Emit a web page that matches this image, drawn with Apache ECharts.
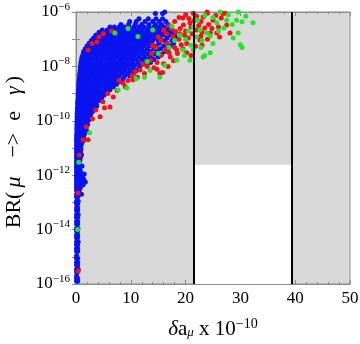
<!DOCTYPE html>
<html>
<head>
<meta charset="utf-8">
<script src="https://cdn.jsdelivr.net/npm/echarts@6/dist/echarts.min.js"></script>
<style>
  html, body { margin: 0; padding: 0; background: #fff; }
  #chart { width: 360px; height: 344px; }
</style>
</head>
<body>
<div id="chart"></div>
<script>
// blue cloud, read row by row: [BR value, [delta a_mu values]]
const blueRows = [
  [1e-6, [16.2]],
  [8.9e-7, [14.5, 15.8]],
  [5.6e-7, [11.5, 13.2, 14.6, 15.8]],
  [4.5e-7, [9.8, 11.0, 12.6, 14.0, 15.2, 16.4]],
  [3.5e-7, [8.2, 9.6, 10.8, 12.0, 13.3, 14.5, 15.6, 16.8]],
  [2.8e-7, [6.2, 7.0, 7.9, 8.8, 9.7, 10.6, 11.5, 12.4, 13.3, 14.2, 15.1, 16.0, 17.0]],
  [2.2e-7, [4.8, 5.7, 6.6, 7.5, 8.4, 9.3, 10.2, 11.1, 12, 12.9, 13.8, 14.7, 15.6, 16.5, 17.4]],
  [1.8e-7, [4.2, 5.0, 5.8, 6.6, 7.4, 8.2, 9.0, 9.8, 10.6, 11.4, 12.2, 13.0, 13.8, 14.6, 15.4, 16.2, 17.0, 17.8]],
  [1.4e-7, [3.6, 4.4, 5.2, 6.0, 6.8, 7.6, 8.4, 9.2, 10.0, 10.8, 11.6, 12.4, 13.2, 14.0, 14.8, 15.6, 16.4, 17.2, 18.0]],
  [1.1e-7, [3.2, 4.0, 4.8, 5.6, 6.4, 7.2, 8.0, 8.8, 9.6, 10.4, 11.2, 12.0, 12.8, 13.6, 14.4, 15.4, 16.6, 18.2]],
  [8.9e-8, [2.8, 3.6, 4.4, 5.2, 6.0, 6.8, 7.6, 8.4, 9.2, 10.0, 10.8, 11.6, 12.4, 13.2, 14.0, 15.0, 16.2, 17.5]],
  [7.1e-8, [2.4, 3.2, 4.0, 4.8, 5.6, 6.4, 7.2, 8.0, 8.8, 9.6, 10.4, 11.2, 12.0, 12.8, 13.8, 15.2, 16.6, 17.8]],
  [5.6e-8, [2.0, 2.8, 3.6, 4.4, 5.2, 6.0, 6.8, 7.6, 8.4, 9.2, 10.0, 10.8, 11.6, 12.4, 13.4, 14.6, 16.0, 17.2]],
  [4.5e-8, [1.7, 2.4, 3.2, 4.0, 4.8, 5.6, 6.4, 7.2, 8.0, 8.8, 9.6, 10.4, 11.2, 12.0, 13.0, 14.2, 15.4, 16.8]],
  [3.5e-8, [1.4, 2.1, 2.9, 3.7, 4.5, 5.3, 6.1, 6.9, 7.7, 8.5, 9.3, 10.1, 10.9, 11.7, 12.6, 13.6, 14.8, 16.2]],
  [2.8e-8, [1.3, 1.9, 2.5, 3.3, 4.1, 4.9, 5.7, 6.5, 7.3, 8.1, 8.9, 9.7, 10.5, 11.3, 12.2, 13.2, 14.4, 15.6]],
  [2.2e-8, [1.1, 1.8, 2.6, 3.4, 4.2, 5.0, 5.8, 6.6, 7.4, 8.2, 9.0, 9.8, 10.6, 11.5, 12.5, 13.6, 15.0]],
  [1.8e-8, [1.0, 1.5, 2.2, 3.0, 3.8, 4.6, 5.4, 6.2, 7.0, 7.8, 8.6, 9.4, 10.2, 11.0, 12.0, 13.0, 14.2]],
  [1.4e-8, [0.9, 1.5, 2.2, 3.0, 3.8, 4.6, 5.4, 6.2, 7.0, 7.8, 8.6, 9.4, 10.3, 11.3, 12.4, 13.6]],
  [1.1e-8, [0.85, 1.2, 1.8, 2.5, 3.3, 4.1, 4.9, 5.7, 6.5, 7.3, 8.1, 9.0, 9.9, 10.8, 11.8, 12.9]],
  [8.9e-9, [0.8, 1.4, 2.1, 2.9, 3.7, 4.5, 5.3, 6.1, 6.9, 7.7, 8.5, 9.4, 10.4, 11.6]],
  [7.1e-9, [0.75, 1.1, 1.7, 2.5, 3.3, 4.1, 4.9, 5.7, 6.5, 7.3, 8.1, 8.9, 9.9, 11.0]],
  [5.6e-9, [0.7, 1.2, 1.9, 2.7, 3.5, 4.3, 5.1, 5.9, 6.7, 7.5, 8.4, 9.4, 10.5]],
  [4.5e-9, [0.65, 1.0, 1.5, 2.3, 3.1, 3.9, 4.7, 5.5, 6.3, 7.1, 7.9, 8.9, 9.8]],
  [3.5e-9, [0.6, 1.1, 1.8, 2.6, 3.4, 4.2, 5.0, 5.8, 6.6, 7.5, 8.6]],
  [2.8e-9, [0.55, 0.9, 1.4, 2.2, 3.0, 3.8, 4.6, 5.4, 6.2, 7.0, 8.0]],
  [2.2e-9, [0.5, 1.0, 1.6, 2.4, 3.2, 4.0, 4.8, 5.6, 6.5, 7.4]],
  [1.8e-9, [0.5, 0.8, 1.3, 2.0, 2.8, 3.6, 4.4, 5.2, 6.0, 6.8]],
  [1.4e-9, [0.45, 0.9, 1.5, 2.2, 3.0, 3.8, 4.6, 5.5, 6.2]],
  [1.1e-9, [0.45, 0.7, 1.2, 1.9, 2.6, 3.4, 4.2, 5.0, 5.7]],
  [8.9e-10, [0.4, 0.8, 1.4, 2.1, 2.8, 3.6, 4.4, 5.1]],
  [7.1e-10, [0.4, 0.6, 1.1, 1.7, 2.4, 3.2, 4.0, 4.7]],
  [5.6e-10, [0.35, 0.75, 1.3, 2.0, 2.7, 3.4, 4.2]],
  [4.5e-10, [0.3, 0.55, 1.0, 1.6, 2.3, 3.0, 3.7]],
  [3.5e-10, [0.3, 0.7, 1.2, 1.8, 2.5, 3.2, 3.8]],
  [2.8e-10, [0.25, 0.5, 0.9, 1.5, 2.1, 2.8, 3.4]],
  [2.2e-10, [0.25, 0.6, 1.1, 1.7, 2.3, 3.0]],
  [1.8e-10, [0.2, 0.45, 0.85, 1.4, 2.0, 2.7]],
  [1.4e-10, [0.2, 0.55, 1.0, 1.6, 2.2, 2.6]],
  [1.1e-10, [0.2, 0.4, 0.75, 1.2, 1.8, 2.4]],
  [8.9e-11, [0.2, 0.5, 0.9, 1.4, 2.0]],
  [7.1e-11, [0.15, 0.35, 0.7, 1.1, 1.6, 2.1]],
  [5.6e-11, [0.15, 0.45, 0.8, 1.3, 1.8]],
  [4.5e-11, [0.15, 0.35, 0.6, 1.0, 1.5, 1.9]],
  [3.5e-11, [0.15, 0.4, 0.8, 1.2, 1.6]],
  [2.8e-11, [0.1, 0.3, 0.6, 1.0, 1.4]],
  [2.2e-11, [0.1, 0.4, 0.7, 1.1, 1.4]],
  [1.8e-11, [0.1, 0.3, 0.55, 0.9, 1.3]],
  [1.4e-11, [0.1, 0.35, 0.7, 1.0]],
  [1.1e-11, [0.1, 0.25, 0.5, 0.85]],
  [8.9e-12, [0.1, 0.3, 0.6, 0.9]],
  [7.1e-12, [0.1, 0.25, 0.5, 0.8]],
  [5.6e-12, [0.1, 0.3, 0.6, 1.0]],
  [4.5e-12, [0.1, 0.25, 0.5, 0.8]],
  [3.5e-12, [0.1, 0.35, 0.7]],
  [2.8e-12, [0.1, 0.3, 0.55]],
  [2.2e-12, [0.1, 0.3, 0.6, 1.1]],
  [1.8e-12, [0.1, 0.3, 0.7]],
  [1.4e-12, [0.1, 0.35, 0.8]],
  [1.1e-12, [0.1, 0.3, 0.7, 1.5]],
  [8.9e-13, [0.1, 0.3, 0.6, 1.2]],
  [7.1e-13, [0.1, 0.3, 0.9, 1.4]],
  [5.6e-13, [0.1, 0.4, 1.0, 1.7]],
  [4.5e-13, [0.1, 0.3, 0.7, 1.3]],
  [3.5e-13, [0.1, 0.35, 0.8]],
  [2.8e-13, [0.1, 0.3, 0.6]],
  [2e-13, [0.1, 0.3, 0.6, 1.0]],
  [1.6e-13, [0.1, 0.3]],
  [1.1e-13, [0.1, 0.4]],
  [8.9e-14, [0.1, 0.3]],
  [6.3e-14, [0.1, 0.3]],
  [5e-14, [0.1, 0.3]],
  [3.5e-14, [0.1, 0.4]],
  [2.8e-14, [0.1, 0.3]],
  [2e-14, [0.1, 0.3]],
  [1.6e-14, [0.1, 0.3]],
  [1.1e-14, [0.1, 0.35]],
  [8.9e-15, [0.1, 0.3]],
  [6.3e-15, [0.1, 0.3]],
  [5e-15, [0.1, 0.3]],
  [3.5e-15, [0.1, 0.4]],
  [2.8e-15, [0.1, 0.3]],
  [2e-15, [0.1, 0.3]],
  [1.6e-15, [0.1, 0.3]],
  [1.1e-15, [0.1]],
  [8.9e-16, [0.1, 0.3]],
  [6.3e-16, [0.1, 0.3]],
  [5e-16, [0.1, 0.3]],
  [3.5e-16, [0.1, 0.4]],
  [2.8e-16, [0.1, 0.3]],
  [2e-16, [0.1]],
  [1.6e-16, [0.1, 0.3]],
  [1.26e-16, [0.1, 0.3]]
];

const redPoints = [
  [0.35, 2.2e-13], [0.4, 3e-16], [0.6, 5.5e-12],
  [1.3, 2e-11], [2.2, 2e-11], [1.9, 6e-11], [3.0, 1.2e-10], [4.4, 1.4e-10], [3.6, 2.5e-10],
  [5.2, 3e-10], [6.2, 3.2e-10], [4.9, 5e-10], [6.8, 7.5e-10], [5.8, 1e-9], [7.5, 1.3e-9],
  [8.6, 2.4e-9], [7.9, 3e-9], [9.5, 3e-9], [10.2, 4.5e-9], [11.7, 7.4e-9], [10.8, 6.3e-9],
  [12.5, 5.5e-9], [13.0, 1e-8], [12.2, 1.2e-8], [14.2, 9e-9], [14.8, 1.4e-8], [13.6, 1.7e-8],
  [11.2, 4e-9], [9.0, 1.8e-9], [10.4, 3.2e-9], [15.3, 5.6e-9],
  [2.2, 4e-8], [2.9, 7e-8], [3.8, 7.9e-8], [5.0, 1.6e-7], [6.5, 2e-7], [4.2, 1.2e-7],
  [14.8, 7.9e-9], [16.0, 1.26e-8], [17.2, 2.2e-8], [18.4, 4e-8], [16.6, 7e-8], [17.7, 1.26e-7],
  [19.0, 2.5e-7], [20.8, 4e-7], [19.5, 6e-7], [21.4, 9e-7], [23.2, 6.6e-7], [24.0, 9e-7],
  [25.0, 5e-7], [26.0, 2.8e-7], [27.5, 3.3e-7], [28.1, 1.7e-7], [24.5, 1.7e-7], [22.6, 9.3e-8],
  [20.2, 7e-8], [20.2, 3.2e-8], [22.0, 2.2e-7], [23.9, 1e-6], [27.2, 9e-7], [26.8, 8.9e-7],
  [25.7, 1.7e-7], [15.5, 2.5e-8], [16.3, 4e-8], [17.0, 3.2e-8], [18.0, 5e-8], [19.2, 6.3e-8],
  [18.8, 1e-7], [19.8, 1.4e-7], [20.5, 1.1e-7], [21.2, 1.6e-7], [21.8, 5.5e-8], [22.8, 1.3e-7],
  [23.5, 2.6e-7], [24.2, 3.5e-7], [22.4, 3.2e-7], [21.0, 2.8e-7], [20.0, 2e-7], [19.0, 1.6e-7],
  [18.2, 1.9e-7], [17.5, 2.4e-7], [16.5, 1.6e-7], [15.5, 9e-8], [14.5, 5e-8], [13.8, 3e-8],
  [14.0, 6e-8], [15.0, 1.2e-7], [16.0, 2.2e-7], [17.0, 3.2e-7], [18.0, 4.5e-7], [18.8, 6.3e-7],
  [20.0, 8e-7], [22.0, 7e-7], [22.8, 4.5e-7], [25.5, 7.5e-7], [26.5, 6e-7], [24.8, 2.5e-7],
  [23.0, 1.8e-7], [21.5, 4.8e-7], [19.6, 3.3e-7], [20.6, 5.8e-7], [18.5, 3e-8], [17.8, 1.6e-8],
  [16.8, 1e-8], [15.8, 6e-9], [19.5, 4.5e-8], [21.0, 2.5e-8], [23.0, 6e-8], [24.0, 1e-7],
  [26.2, 1.2e-7]
];

const greenPoints = [
  [0.3, 1e-14], [0.5, 3e-12], [2.5, 3.6e-11], [7.7, 1.35e-9], [9.3, 1.6e-9], [11.0, 3.5e-9],
  [12.5, 4e-9], [13.5, 7e-9], [15.3, 4e-9], [7.1, 1.7e-7], [11.3, 1.26e-7], [9.5, 2.5e-7],
  [21.4, 2.8e-7], [22.6, 2.2e-7], [23.9, 1.7e-7], [23.2, 2.2e-8], [24.5, 3.2e-8], [20.8, 1.7e-8],
  [19.5, 4e-8], [18.4, 1.7e-8], [25.7, 4e-7], [27.5, 5e-7], [29.3, 5e-7], [30.3, 4.4e-7],
  [32.3, 4e-7], [29.6, 1.7e-7], [28.7, 1.1e-7], [30.0, 6.3e-8], [30.3, 5e-8], [25.0, 7e-8],
  [23.5, 2.5e-8], [21.4, 4e-8], [29.6, 1e-6], [26.3, 1e-6], [17.0, 5e-8], [16.2, 1.1e-8],
  [18.0, 9e-8], [19.0, 1.4e-7], [20.0, 1e-7], [21.0, 6e-8], [22.0, 1.2e-7], [23.0, 9e-8],
  [24.5, 1.3e-7], [26.0, 2e-7], [27.0, 2.6e-7], [25.0, 6.3e-7], [23.5, 7.5e-7], [22.2, 5e-7],
  [20.5, 2e-7], [17.5, 3e-7], [14.0, 2.2e-7], [13.0, 1.5e-8], [15.0, 3e-8], [27.8, 8e-7],
  [28.5, 3.5e-7], [31.0, 7e-7], [19.8, 2.5e-8], [22.8, 5e-8]
];

// experimental window in delta a_mu and MEG bound
const amuWindow = [21.4, 39.3];
const megBound = 2.4e-12;

const xMin = 0, xMax = 50, xStep = 10;
const yMin = 1e-16, yMax = 1e-6;

const bluePoints = [];
blueRows.forEach(([y, xs]) => xs.forEach(x => bluePoints.push([x, y])));

const serif = 'Liberation Serif';
const frameColor = '#8c8c8c';

function powLabel (v) {
  const e = Math.round(Math.log10(v));
  if (e % 2 !== 0) return '';
  return '{b|10}{s|\u2212' + Math.abs(e) + '}';
}

const tickRich = {
  b: { fontFamily: serif, fontSize: 17, color: '#000' },
  s: { fontFamily: serif, fontSize: 11, color: '#000', padding: [0, 0, 10, 0] }
};

const chart = echarts.init(document.getElementById('chart'));
chart.setOption({
  animation: false,
  grid: {
    left: 76, top: 12, width: 274, height: 272, outerBoundsMode: 'none',
    show: true, backgroundColor: '#d9d9d9', borderColor: frameColor, borderWidth: 1
  },
  graphic: [{
    type: 'text', left: 3, top: 76, rotation: Math.PI / 2,
    style: {
      text: '{t|BR(}{i|\u03BC}{op|\u2212>}{t|e}{g|\u03B3}{t|)}',
      rich: {
        t: { fontFamily: serif, fontSize: 22, fill: '#000' },
        i: { fontFamily: serif, fontStyle: 'italic', fontSize: 22, fill: '#000', padding: [0, 3, 0, 4] },
        op: { fontFamily: serif, fontSize: 22, fill: '#000', padding: [0, 12, 0, 16] },
        g: { fontFamily: serif, fontStyle: 'italic', fontSize: 22, fill: '#000', padding: [0, 3, 0, 16] }
      }
    }
  }],
  xAxis: [{
    type: 'value', min: xMin, max: xMax, interval: xStep,
    axisLine: { show: true, lineStyle: { color: frameColor } },
    axisTick: { inside: true, length: 4, lineStyle: { color: frameColor } },
    minorTick: { show: true, splitNumber: 5, length: 2, lineStyle: { color: frameColor } },
    splitLine: { show: false },
    axisLabel: { fontFamily: serif, fontSize: 17, color: '#000', margin: 6 },
    name: '{i|\u03B4}{t|a}{sub|\u03BC}{t| x 10}{sup|\u221210}',
    nameLocation: 'middle', nameGap: 33,
    nameTextStyle: {
      rich: {
        i: { fontFamily: serif, fontStyle: 'italic', fontSize: 21, color: '#000' },
        t: { fontFamily: serif, fontSize: 21, color: '#000' },
        sub: { fontFamily: serif, fontStyle: 'italic', fontSize: 13, color: '#000', padding: [8, 0, 0, 0] },
        sup: { fontFamily: serif, fontSize: 14, color: '#000', padding: [0, 0, 10, 0] }
      }
    }
  }, {
    type: 'value', min: xMin, max: xMax, interval: xStep, position: 'top',
    axisLine: { show: true, lineStyle: { color: frameColor } },
    axisTick: { inside: true, length: 4, lineStyle: { color: frameColor } },
    minorTick: { show: true, splitNumber: 5, length: 2, lineStyle: { color: frameColor } },
    splitLine: { show: false }, axisLabel: { show: false }
  }],
  yAxis: [{
    type: 'log', logBase: 10, min: yMin, max: yMax, interval: 1, splitNumber: 10,
    axisLine: { show: true, lineStyle: { color: frameColor } },
    axisTick: { inside: true, length: 4, lineStyle: { color: frameColor } },
    splitLine: { show: false },
    axisLabel: { formatter: powLabel, rich: tickRich, margin: 6 }
  }, {
    type: 'log', logBase: 10, min: yMin, max: yMax, interval: 1, splitNumber: 10, position: 'right',
    axisLine: { show: true, lineStyle: { color: frameColor } },
    axisTick: { inside: true, length: 4, lineStyle: { color: frameColor } },
    splitLine: { show: false }, axisLabel: { show: false }
  }],
  series: [{
    type: 'scatter', name: 'blue', data: bluePoints,
    symbolSize: 5, itemStyle: { color: '#0a14f0', opacity: 1 },
    markArea: {
      silent: true,
      itemStyle: { color: '#ffffff' },
      data: [[{ coord: [amuWindow[0], yMin] }, { coord: [amuWindow[1], megBound] }]]
    },
    z: 2
  }, {
    type: 'scatter', name: 'red', data: redPoints,
    symbolSize: 5, itemStyle: { color: '#f01414', opacity: 1 }, z: 3
  }, {
    type: 'scatter', name: 'green', data: greenPoints,
    symbolSize: 5, itemStyle: { color: '#22e622', opacity: 1 }, z: 4,
    markLine: {
      silent: true, symbol: 'none',
      label: { show: false },
      lineStyle: { color: '#000', width: 2, type: 'solid' },
      data: [{ xAxis: amuWindow[0] }, { xAxis: amuWindow[1] }, { yAxis: megBound }]
    }
  }]
});
</script>
</body>
</html>
